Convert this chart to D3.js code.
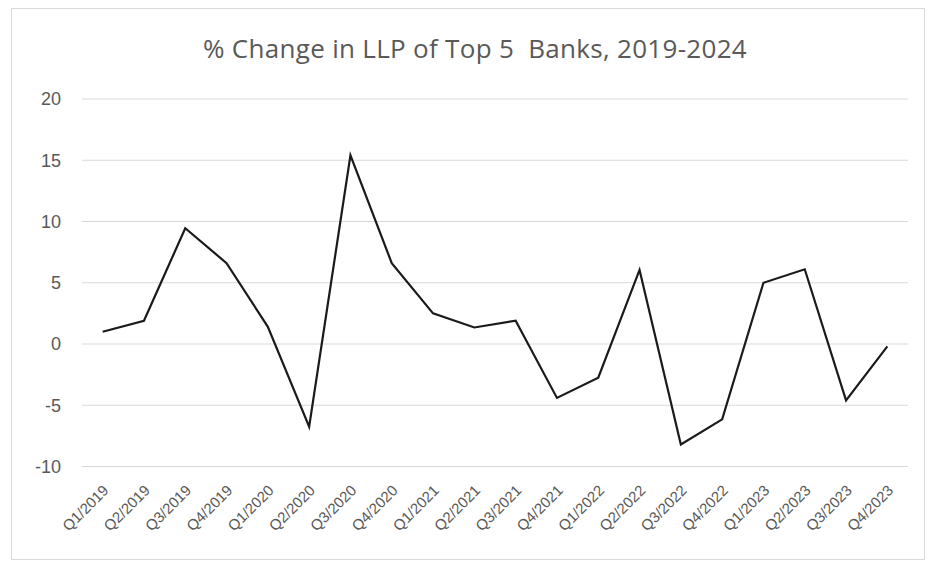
<!DOCTYPE html>
<html><head><meta charset="utf-8">
<script src="https://cdn.jsdelivr.net/npm/d3@7"></script>
<style>body{margin:0;background:#fff;}svg{display:block;font-family:"Open Sans",Lato,sans-serif;}</style>
</head><body>
<svg id="c" width="933" height="564"></svg>
<script>
const categories = ["Q1/2019","Q2/2019","Q3/2019","Q4/2019","Q1/2020","Q2/2020","Q3/2020","Q4/2020","Q1/2021","Q2/2021","Q3/2021","Q4/2021","Q1/2022","Q2/2022","Q3/2022","Q4/2022","Q1/2023","Q2/2023","Q3/2023","Q4/2023"];
const values = [1.0,1.9,9.45,6.6,1.4,-6.75,15.4,6.6,2.5,1.35,1.9,-4.4,-2.75,6.05,-8.2,-6.15,5.0,6.1,-4.6,-0.2];
const yTicks = [-10,-5,0,5,10,15,20];
const title = "% Change in LLP of Top 5  Banks, 2019-2024";

(function(){
const svg = d3.select("#c");
const pLeft = 82, pRight = 908, pTop = 99, pBottom = 466.5;
svg.append("rect").attr("x",11.5).attr("y",8.5).attr("width",913).attr("height",551)
  .attr("fill","#fff").attr("stroke","#d9d9d9");

const x = d3.scaleBand().domain(categories).range([pLeft,pRight]);
const y = d3.scaleLinear().domain([-10,20]).range([pBottom,pTop]);

svg.append("g").selectAll("line").data(yTicks).join("line")
  .attr("x1",pLeft).attr("x2",pRight).attr("y1",d=>y(d)).attr("y2",d=>y(d))
  .attr("stroke","#d9d9d9").attr("stroke-width",1);

const ya = svg.append("g").attr("transform",`translate(${pLeft-21},0)`)
  .call(d3.axisLeft(y).tickValues(yTicks).tickFormat(d=>String(d)).tickSize(0).tickPadding(0));
ya.select(".domain").remove();
ya.selectAll("text").attr("fill","#595959").style("font-size","18px");

const xa = svg.append("g").attr("transform",`translate(0,${pBottom})`)
  .call(d3.axisBottom(x).tickSize(0));
xa.select(".domain").remove();
xa.selectAll("text").attr("fill","#595959").style("font-size","15px")
  .attr("text-anchor","end").attr("dy","0.35em")
  .attr("transform","translate(1,19) rotate(-45)");

const line = d3.line().x((d,i)=>x(categories[i])+x.bandwidth()/2).y(d=>y(d));
svg.append("path").datum(values).attr("d",line).attr("fill","none")
  .attr("stroke","#1a1a1a").attr("stroke-width",2.2).attr("stroke-linejoin","miter");

svg.append("text").attr("x",475).attr("y",58).attr("text-anchor","middle")
  .style("white-space","pre").attr("xml:space","preserve")
  .attr("fill","#595959").style("font-size","26px").style("letter-spacing","0.3px").text(title);
})();
</script>
</body></html>
